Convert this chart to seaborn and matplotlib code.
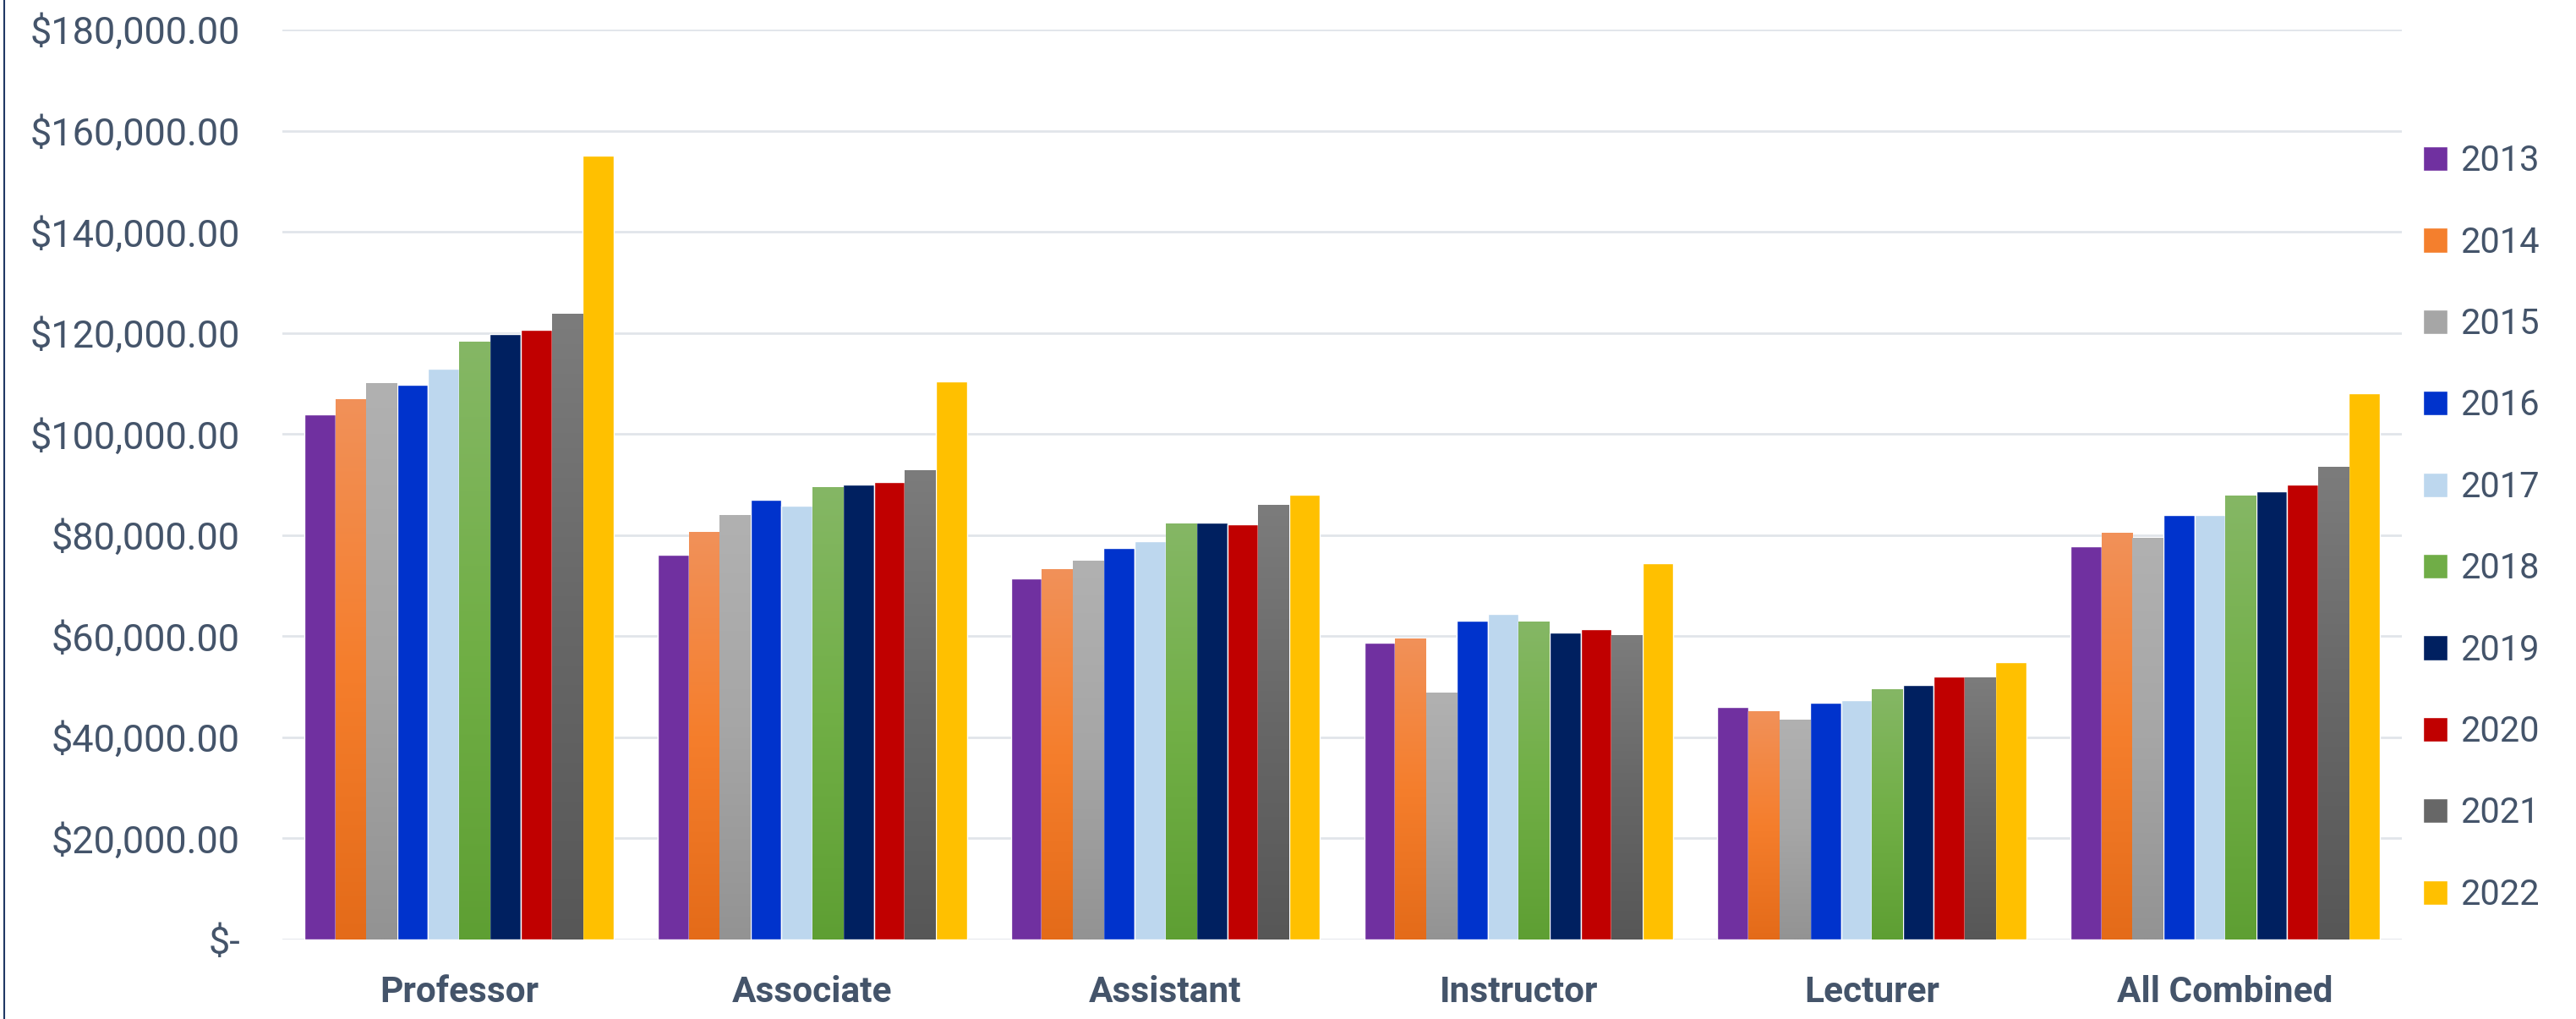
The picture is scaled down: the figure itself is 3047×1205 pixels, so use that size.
import numpy as np
import pandas as pd
import matplotlib
matplotlib.use("Agg")
import matplotlib.pyplot as plt
from matplotlib.colors import LinearSegmentedColormap
from matplotlib.lines import Line2D
from matplotlib.ticker import FuncFormatter, MultipleLocator
import seaborn as sns

ranks = ["Professor", "Associate", "Assistant", "Instructor", "Lecturer", "All Combined"]
years = ["2013", "2014", "2015", "2016", "2017", "2018", "2019", "2020", "2021", "2022"]

# average salary per rank, one value per year (2013..2022)
professor = [103950, 106820, 110120, 109700, 113000, 118210, 119700, 120660, 123850, 155030]
associate = [76040, 80550, 83920, 87060, 85760, 89580, 90040, 90420, 92870, 110390]
assistant = [71370, 73210, 74890, 77420, 78720, 82240, 82390, 82080, 85910, 88050]
instructor = [58750, 59590, 48930, 63080, 64400, 62940, 60780, 61400, 60220, 74440]
lecturer = [46070, 45240, 43560, 46770, 47400, 49560, 50390, 52060, 51900, 54800]
all_combined = [77720, 80540, 79510, 84050, 84050, 87890, 88660, 90030, 93540, 107990]

colors = ["#7030A0", "#F47F2D", "#A6A6A6", "#0033CC", "#BDD7EE",
          "#70AD47", "#002060", "#C00000", "#676767", "#FFC000"]

# excel style gradient fills (bottom -> top) for some series
gradients = {
    "2014": ["#E46B19", "#F57E2C", "#F19159"],
    "2015": ["#939393", "#A6A6A6", "#B1B1B1"],
    "2018": ["#5E9F33", "#71AF46", "#85B765"],
    "2021": ["#575757", "#676767", "#7C7C7C"],
}

text_color = "#44546A"

rows = []
for rank, vals in zip(ranks, [professor, associate, assistant, instructor, lecturer, all_combined]):
    for yr, v in zip(years, vals):
        rows.append({"rank": rank, "year": yr, "salary": v})
df = pd.DataFrame(rows)

sns.set_style("white")
plt.rcParams["font.family"] = ["Roboto", "DejaVu Sans"]

fig = plt.figure(figsize=(30.47, 12.05), dpi=100)
ax = fig.add_axes([334 / 3047, 1 - 1111 / 1205, (2841 - 334) / 3047, (1111 - 35) / 1205])

sns.barplot(data=df, x="rank", y="salary", hue="year", order=ranks, hue_order=years,
            palette=colors, saturation=1, width=0.875, gap=0, errorbar=None, ax=ax)

# gradient overlays clipped to each bar
for yr, container in zip(years, ax.containers):
    if yr not in gradients:
        continue
    cmap = LinearSegmentedColormap.from_list("g" + yr, gradients[yr])
    for bar in container:
        x0, y0 = bar.get_x(), bar.get_y()
        w, h = bar.get_width(), bar.get_height()
        img = ax.imshow(np.linspace(0, 1, 256).reshape(-1, 1), cmap=cmap, origin="lower",
                        extent=[x0, x0 + w, y0, y0 + h], aspect="auto",
                        zorder=bar.get_zorder() + 0.1, interpolation="bilinear")
        img.set_clip_path(bar)

ax.set_xlim(-0.5, len(ranks) - 0.5)
ax.set_ylim(0, 180000)
ax.yaxis.set_major_locator(MultipleLocator(20000))
ax.yaxis.set_major_formatter(FuncFormatter(lambda v, p: "$-" if v == 0 else f"${v:,.2f}"))

ax.yaxis.grid(True, color="#E1E5EA", lw=2)
ax.set_axisbelow(True)
for s in ax.spines.values():
    s.set_visible(False)

ax.set_xlabel("")
ax.set_ylabel("")
ax.tick_params(axis="y", length=0, pad=36, labelsize=32.5, labelcolor=text_color)
ax.tick_params(axis="x", length=0, pad=30, labelsize=30.5, labelcolor=text_color)
for lbl in ax.get_xticklabels():
    lbl.set_fontweight("bold")

handles, labels = ax.get_legend_handles_labels()
ax.legend(handles, labels, loc="center left", bbox_to_anchor=(2866 / 3047, 1 - 624.5 / 1205),
          bbox_transform=fig.transFigure, frameon=False, fontsize=30, labelcolor=text_color,
          handlelength=0.7, handleheight=0.7, handletextpad=0.35, labelspacing=1.33,
          borderpad=0, borderaxespad=0)

# thin border line on the left edge
fig.add_artist(Line2D([5 / 3047, 5 / 3047], [0, 1], color="#203864", lw=1.5))

fig.savefig("out.png", dpi=100)
